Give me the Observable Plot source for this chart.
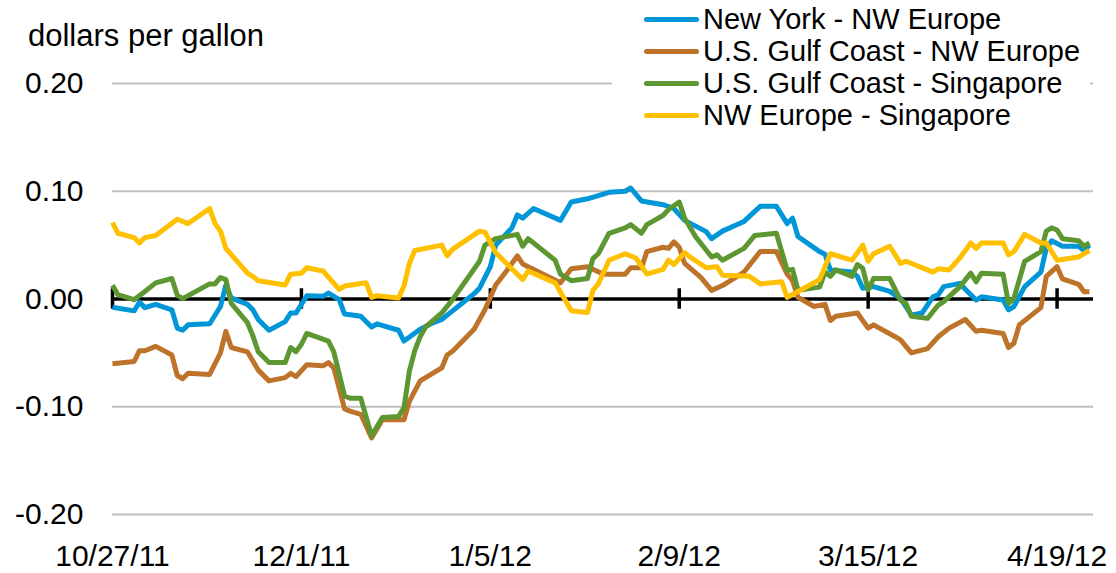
<!DOCTYPE html>
<html><head><meta charset="utf-8">
<script src="https://cdn.jsdelivr.net/npm/d3@7"></script>
<script src="https://cdn.jsdelivr.net/npm/@observablehq/plot@0.6"></script>
<style>
body{margin:0;background:#fff;font-family:Arial,"Liberation Sans",sans-serif;color:#000;}
#wrap{position:relative;width:1116px;height:573px;overflow:hidden;}
#title{position:absolute;left:28px;top:20px;font-size:31px;line-height:31px;white-space:nowrap;}
#legend{position:absolute;left:612px;top:3px;background:#fff;padding:0 10px 0 32px;font-size:29px;}
.row{height:32px;line-height:32px;white-space:nowrap;display:flex;align-items:center;}
.sw{display:inline-block;width:55px;height:5px;border-radius:2.5px;margin-right:4px;flex:none;}
#chart{position:absolute;left:0;top:0;}
</style></head>
<body><div id="wrap"><div id="chart"></div><div id="title">dollars per gallon</div><div id="legend"></div></div>
<script>
const seriesNames = ["New York - NW Europe","U.S. Gulf Coast - NW Europe","U.S. Gulf Coast - Singapore","NW Europe - Singapore"];
const seriesColors = ["#0096d7","#bd732a","#5d9732","#ffc000"];
const yTicks = [-0.2,-0.1,0,0.1,0.2];
const xTickLabels = ["2011-10-27","2011-12-01","2012-01-05","2012-02-09","2012-03-15","2012-04-19"];

const nyNwe = [["2011-10-27",-0.0077],["2011-10-31",-0.011],["2011-11-01",-0.003],["2011-11-02",-0.008],["2011-11-04",-0.005],["2011-11-07",-0.010],["2011-11-08",-0.027],["2011-11-09",-0.029],["2011-11-10",-0.024],["2011-11-14",-0.023],["2011-11-16",-0.007],["2011-11-17",0.013],["2011-11-18",0.001],["2011-11-21",-0.005],["2011-11-22",-0.010],["2011-11-23",-0.019],["2011-11-25",-0.029],["2011-11-28",-0.021],["2011-11-29",-0.013],["2011-11-30",-0.013],["2011-12-02",0.003],["2011-12-05",0.0025],["2011-12-06",0.0055],["2011-12-08",-0.0005],["2011-12-09",-0.014],["2011-12-12",-0.016],["2011-12-14",-0.026],["2011-12-15",-0.023],["2011-12-19",-0.029],["2011-12-20",-0.039],["2011-12-23",-0.028],["2011-12-25",-0.023],["2011-12-27",-0.019],["2011-12-29",-0.011],["2011-12-31",-0.003],["2012-01-02",0.005],["2012-01-03",0.010],["2012-01-05",0.030],["2012-01-06",0.050],["2012-01-09",0.066],["2012-01-10",0.078],["2012-01-11",0.075],["2012-01-13",0.084],["2012-01-18",0.073],["2012-01-20",0.090],["2012-01-23",0.093],["2012-01-25",0.096],["2012-01-27",0.099],["2012-01-30",0.100],["2012-01-31",0.103],["2012-02-02",0.091],["2012-02-06",0.0875],["2012-02-08",0.084],["2012-02-10",0.073],["2012-02-14",0.0625],["2012-02-15",0.056],["2012-02-17",0.063],["2012-02-21",0.072],["2012-02-24",0.086],["2012-02-27",0.086],["2012-02-29",0.070],["2012-03-01",0.075],["2012-03-02",0.058],["2012-03-06",0.044],["2012-03-07",0.0415],["2012-03-08",0.027],["2012-03-12",0.025],["2012-03-13",0.021],["2012-03-14",0.010],["2012-03-16",0.0115],["2012-03-19",0.007],["2012-03-21",0.0006],["2012-03-23",-0.015],["2012-03-25",-0.013],["2012-03-27",0.002],["2012-03-28",0.004],["2012-03-29",0.0115],["2012-04-01",0.0145],["2012-04-02",0.009],["2012-04-04",-0.001],["2012-04-05",0.002],["2012-04-09",-0.001],["2012-04-10",-0.010],["2012-04-11",-0.007],["2012-04-13",0.0115],["2012-04-16",0.025],["2012-04-17",0.047],["2012-04-18",0.054],["2012-04-20",0.049],["2012-04-23",0.049],["2012-04-24",0.045],["2012-04-25",0.050]];

const usgcNwe = [["2011-10-27",-0.060],["2011-10-31",-0.058],["2011-11-01",-0.048],["2011-11-02",-0.048],["2011-11-04",-0.044],["2011-11-07",-0.052],["2011-11-08",-0.071],["2011-11-09",-0.074],["2011-11-10",-0.069],["2011-11-14",-0.070],["2011-11-16",-0.050],["2011-11-17",-0.030],["2011-11-18",-0.045],["2011-11-21",-0.049],["2011-11-23",-0.066],["2011-11-25",-0.076],["2011-11-28",-0.073],["2011-11-29",-0.069],["2011-11-30",-0.072],["2011-12-02",-0.061],["2011-12-05",-0.062],["2011-12-06",-0.059],["2011-12-07",-0.064],["2011-12-09",-0.102],["2011-12-10",-0.104],["2011-12-12",-0.107],["2011-12-14",-0.129],["2011-12-16",-0.112],["2011-12-20",-0.112],["2011-12-21",-0.095],["2011-12-23",-0.076],["2011-12-27",-0.064],["2011-12-28",-0.052],["2011-12-29",-0.0485],["2012-01-02",-0.028],["2012-01-04",-0.010],["2012-01-06",0.013],["2012-01-08",0.026],["2012-01-10",0.040],["2012-01-11",0.0325],["2012-01-12",0.030],["2012-01-18",0.015],["2012-01-20",0.028],["2012-01-23",0.030],["2012-01-26",0.023],["2012-01-30",0.023],["2012-01-31",0.029],["2012-02-02",0.029],["2012-02-03",0.044],["2012-02-06",0.048],["2012-02-07",0.047],["2012-02-08",0.053],["2012-02-09",0.048],["2012-02-10",0.033],["2012-02-13",0.020],["2012-02-15",0.008],["2012-02-17",0.0125],["2012-02-21",0.025],["2012-02-24",0.044],["2012-02-27",0.044],["2012-02-29",0.023],["2012-03-01",0.017],["2012-03-02",0.0015],["2012-03-05",-0.007],["2012-03-07",-0.005],["2012-03-08",-0.020],["2012-03-09",-0.016],["2012-03-13",-0.013],["2012-03-15",-0.027],["2012-03-16",-0.024],["2012-03-20",-0.035],["2012-03-21",-0.038],["2012-03-23",-0.050],["2012-03-26",-0.046],["2012-03-28",-0.035],["2012-03-30",-0.027],["2012-04-02",-0.019],["2012-04-04",-0.030],["2012-04-05",-0.029],["2012-04-09",-0.032],["2012-04-10",-0.045],["2012-04-11",-0.041],["2012-04-12",-0.024],["2012-04-16",-0.008],["2012-04-17",0.021],["2012-04-19",0.030],["2012-04-20",0.0186],["2012-04-23",0.0136],["2012-04-24",0.0068],["2012-04-25",0.0068]];

const usgcSing = [["2011-10-27",0.0127],["2011-10-28",0.004],["2011-10-31",-0.0006],["2011-11-02",0.007],["2011-11-04",0.015],["2011-11-07",0.019],["2011-11-08",0.0034],["2011-11-09",0.0003],["2011-11-14",0.014],["2011-11-15",0.014],["2011-11-16",0.020],["2011-11-17",0.018],["2011-11-18",-0.004],["2011-11-21",-0.022],["2011-11-22",-0.034],["2011-11-23",-0.049],["2011-11-25",-0.059],["2011-11-28",-0.059],["2011-11-29",-0.045],["2011-11-30",-0.049],["2011-12-01",-0.042],["2011-12-02",-0.032],["2011-12-06",-0.039],["2011-12-07",-0.049],["2011-12-09",-0.090],["2011-12-10",-0.092],["2011-12-12",-0.092],["2011-12-14",-0.127],["2011-12-16",-0.110],["2011-12-19",-0.109],["2011-12-20",-0.101],["2011-12-21",-0.067],["2011-12-22",-0.048],["2011-12-23",-0.035],["2011-12-24",-0.026],["2011-12-27",-0.013],["2011-12-29",-0.0006],["2012-01-03",0.035],["2012-01-04",0.050],["2012-01-06",0.056],["2012-01-10",0.060],["2012-01-11",0.049],["2012-01-12",0.056],["2012-01-17",0.036],["2012-01-18",0.023],["2012-01-20",0.017],["2012-01-23",0.019],["2012-01-24",0.0375],["2012-01-25",0.042],["2012-01-27",0.061],["2012-01-30",0.066],["2012-01-31",0.069],["2012-02-02",0.061],["2012-02-03",0.069],["2012-02-06",0.0775],["2012-02-07",0.083],["2012-02-09",0.090],["2012-02-10",0.075],["2012-02-12",0.058],["2012-02-15",0.039],["2012-02-16",0.041],["2012-02-17",0.036],["2012-02-21",0.047],["2012-02-23",0.059],["2012-02-27",0.061],["2012-02-29",0.0265],["2012-03-01",0.0275],["2012-03-02",0.008],["2012-03-06",0.011],["2012-03-07",0.025],["2012-03-08",0.021],["2012-03-09",0.027],["2012-03-12",0.021],["2012-03-13",0.032],["2012-03-14",0.0285],["2012-03-15",0.0084],["2012-03-16",0.019],["2012-03-19",0.019],["2012-03-21",-0.001],["2012-03-22",-0.004],["2012-03-23",-0.016],["2012-03-26",-0.018],["2012-03-28",-0.0056],["2012-03-29",-0.0025],["2012-04-01",0.0115],["2012-04-03",0.024],["2012-04-04",0.016],["2012-04-05",0.024],["2012-04-09",0.023],["2012-04-10",-0.004],["2012-04-11",0.0006],["2012-04-13",0.035],["2012-04-16",0.044],["2012-04-17",0.063],["2012-04-18",0.066],["2012-04-19",0.064],["2012-04-20",0.056],["2012-04-23",0.054],["2012-04-24",0.049],["2012-04-25",0.052]];

const nweSing = [["2011-10-27",0.071],["2011-10-28",0.061],["2011-10-31",0.057],["2011-11-01",0.052],["2011-11-02",0.057],["2011-11-04",0.059],["2011-11-08",0.074],["2011-11-10",0.070],["2011-11-14",0.084],["2011-11-15",0.070],["2011-11-16",0.063],["2011-11-17",0.047],["2011-11-21",0.024],["2011-11-22",0.021],["2011-11-23",0.017],["2011-11-28",0.013],["2011-11-29",0.023],["2011-12-01",0.024],["2011-12-02",0.029],["2011-12-05",0.026],["2011-12-08",0.009],["2011-12-09",0.012],["2011-12-13",0.015],["2011-12-14",0.0015],["2011-12-15",0.003],["2011-12-19",0.001],["2011-12-20",0.012],["2011-12-21",0.033],["2011-12-22",0.045],["2011-12-27",0.050],["2011-12-28",0.040],["2011-12-29",0.046],["2012-01-03",0.063],["2012-01-04",0.062],["2012-01-06",0.043],["2012-01-08",0.033],["2012-01-11",0.018],["2012-01-12",0.026],["2012-01-17",0.015],["2012-01-20",-0.011],["2012-01-23",-0.0125],["2012-01-24",0.008],["2012-01-25",0.014],["2012-01-27",0.036],["2012-01-30",0.042],["2012-02-01",0.038],["2012-02-03",0.023],["2012-02-06",0.0275],["2012-02-07",0.036],["2012-02-08",0.032],["2012-02-10",0.043],["2012-02-11",0.039],["2012-02-14",0.029],["2012-02-16",0.030],["2012-02-17",0.022],["2012-02-22",0.021],["2012-02-24",0.014],["2012-02-28",0.016],["2012-02-29",0.0015],["2012-03-02",0.007],["2012-03-06",0.018],["2012-03-08",0.042],["2012-03-12",0.036],["2012-03-14",0.050],["2012-03-15",0.035],["2012-03-16",0.042],["2012-03-19",0.049],["2012-03-21",0.033],["2012-03-22",0.035],["2012-03-27",0.025],["2012-03-28",0.028],["2012-03-30",0.027],["2012-04-01",0.038],["2012-04-03",0.052],["2012-04-04",0.047],["2012-04-05",0.052],["2012-04-09",0.052],["2012-04-10",0.041],["2012-04-11",0.044],["2012-04-13",0.060],["2012-04-16",0.052],["2012-04-17",0.052],["2012-04-19",0.036],["2012-04-23",0.039],["2012-04-25",0.045]];

const seriesData = [nyNwe, usgcNwe, usgcSing, nweSing];
const rows = seriesData.flatMap((arr, i) => arr.map(([d, v]) => ({date: new Date(d), value: v, series: seriesNames[i]})));
const tickDates = xTickLabels.map(d => new Date(d));
const fmtDate = d => `${d.getUTCMonth()+1}/${d.getUTCDate()}/${String(d.getUTCFullYear()).slice(2)}`;

const chart = Plot.plot({
  width: 1116, height: 573,
  marginLeft: 112, marginRight: 23, marginTop: 83, marginBottom: 59,
  style: {fontFamily: 'Arial, "Liberation Sans", sans-serif', fontSize: "30px", color: "#000", background: "transparent", overflow: "visible"},
  x: {type: "utc", domain: [new Date("2011-10-27"), new Date("2012-04-25T18:00Z")]},
  y: {domain: [-0.2, 0.2]},
  color: {domain: seriesNames, range: seriesColors},
  marks: [
    Plot.ruleY(yTicks.filter(v => v !== 0), {stroke: "#bfbfbf", strokeWidth: 2}),
    Plot.ruleY([0], {stroke: "#000", strokeWidth: 3.5}),
    Plot.ruleX(tickDates, {x: d => d, y1: -0.0095, y2: 0.0095, stroke: "#000", strokeWidth: 3.5}),
    Plot.axisY({ticks: yTicks, tickFormat: d => d.toFixed(2), tickSize: 0, tickPadding: 29, fontSize: 30, label: null}),
    Plot.axisX({ticks: tickDates, tickFormat: fmtDate, tickSize: 0, tickPadding: 30, fontSize: 30, label: null}),
    Plot.line(rows, {x: "date", y: "value", z: "series", stroke: "series", strokeWidth: 5, strokeLinejoin: "round", strokeLinecap: "butt"})
  ]
});
document.getElementById("chart").appendChild(chart);

const legend = document.getElementById("legend");
seriesNames.forEach((n, i) => {
  const r = document.createElement("div"); r.className = "row";
  const s = document.createElement("span"); s.className = "sw"; s.style.background = seriesColors[i];
  r.appendChild(s); r.appendChild(document.createTextNode(n)); legend.appendChild(r);
});
</script></body></html>
